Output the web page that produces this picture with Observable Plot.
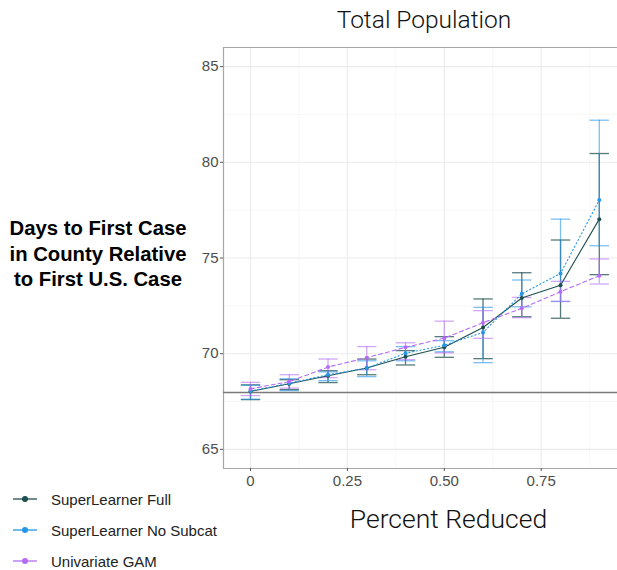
<!DOCTYPE html>
<html><head><meta charset="utf-8">
<script src="https://cdn.jsdelivr.net/npm/d3@7"></script>
<script src="https://cdn.jsdelivr.net/npm/@observablehq/plot@0.6"></script>
<style>
html,body{margin:0;padding:0;background:#fff;overflow:hidden}
#wrap{position:relative;width:617px;height:570px}
#wrap svg{position:absolute;left:0;top:0}
</style></head><body><div id="wrap"></div>
<script>
// ---- data ----
const percent = [0, 0.1, 0.2, 0.3, 0.4, 0.5, 0.6, 0.7, 0.8, 0.9];
const seriesNames = ["SuperLearner Full", "SuperLearner No Subcat", "Univariate GAM"];
const fullMean = [68.03, 68.43, 68.85, 69.25, 69.84, 70.34, 71.37, 72.91, 73.58, 77.03];
const fullLo   = [67.60, 68.12, 68.49, 68.90, 69.41, 69.81, 69.74, 71.93, 71.85, 74.13];
const fullHi   = [68.37, 68.64, 69.11, 69.72, 70.16, 70.89, 72.86, 74.23, 75.94, 80.46];
const noSubMean = [68.05, 68.46, 68.90, 69.25, 70.02, 70.44, 71.11, 73.13, 74.19, 78.03];
const noSubLo   = [67.62, 68.07, 68.59, 68.80, 69.63, 70.10, 69.53, 72.45, 72.73, 75.64];
const noSubHi   = [68.35, 68.69, 69.05, 69.63, 70.37, 70.68, 72.42, 73.85, 77.03, 82.20];
const gamMean = [68.16, 68.54, 69.30, 69.79, 70.33, 70.81, 71.62, 72.37, 73.24, 74.07];
const gamLo   = [67.81, 68.20, 68.75, 69.16, 69.69, 70.05, 70.80, 71.88, 72.73, 73.64];
const gamHi   = [68.50, 68.90, 69.72, 70.37, 70.57, 71.70, 72.25, 72.94, 73.78, 74.95];
const baseline = [67.97];
const xTicks = [0, 0.25, 0.5, 0.75];
const xTickLabels = ["0", "0.25", "0.50", "0.75"];
const xMinor = [0.125, 0.375, 0.625, 0.875];
const yTicks = [65, 70, 75, 80, 85];
const yMinor = [67.5, 72.5, 77.5, 82.5];
const titleText = "Total Population";
const xLabel = "Percent Reduced";
const yLabelLines = ["Days to First Case", "in County Relative", "to First U.S. Case"];

// ---- styling ----
const colors = ["#1d4f4e", "#2595e8", "#b46cf7"];
const dashes = [null, "1.2,2.6", "4,3"];
const capHalf = 0.025;
const xDomain = [-0.0697, 0.947];
const yDomain = [64, 86];

const means = [fullMean, noSubMean, gamMean];
const los = [fullLo, noSubLo, gamLo];
const his = [fullHi, noSubHi, gamHi];
const data = [];
seriesNames.forEach((s, k) => percent.forEach((p, i) => data.push({series: s, k, x: p, y: means[k][i], lo: los[k][i], hi: his[k][i]})));

const marks = [
  Plot.ruleX(xMinor, {stroke: "#f2f2f2", strokeWidth: 0.6}),
  Plot.ruleY(yMinor, {stroke: "#f2f2f2", strokeWidth: 0.6}),
  Plot.ruleX(xTicks, {stroke: "#ebebeb", strokeWidth: 1.1}),
  Plot.ruleY(yTicks, {stroke: "#ebebeb", strokeWidth: 1.1}),
  Plot.ruleX([xDomain[0]], {stroke: "#a6a6a6", strokeWidth: 1.2}),
  Plot.ruleY([yDomain[0], yDomain[1]], {stroke: "#a6a6a6", strokeWidth: 1.2}),
  Plot.ruleY(baseline, {stroke: "#7a7a7a", strokeWidth: 1.6}),
];
seriesNames.forEach((s, k) => {
  const d = data.filter(r => r.k === k);
  const op = k === 0 ? 0.75 : 0.6;
  marks.push(Plot.ruleX(d, {x: "x", y1: "lo", y2: "hi", stroke: colors[k], strokeOpacity: op, strokeWidth: 1.3}));
  marks.push(Plot.link(d, {x1: r => r.x - capHalf, x2: r => r.x + capHalf, y1: "hi", y2: "hi", stroke: colors[k], strokeOpacity: op, strokeWidth: 1.3}));
  marks.push(Plot.link(d, {x1: r => r.x - capHalf, x2: r => r.x + capHalf, y1: "lo", y2: "lo", stroke: colors[k], strokeOpacity: op, strokeWidth: 1.3}));
});
seriesNames.forEach((s, k) => {
  const d = data.filter(r => r.k === k);
  marks.push(Plot.line(d, {x: "x", y: "y", stroke: colors[k], strokeWidth: 1.1, strokeDasharray: dashes[k]}));
  marks.push(Plot.dot(d, {x: "x", y: "y", fill: colors[k], r: 2}));
});
marks.push(Plot.axisY(yTicks, {tickSize: 3, tickPadding: 2, fontSize: 15, label: null, stroke: "#555"}));
marks.push(Plot.axisX(xTicks, {tickSize: 3, tickPadding: 4, fontSize: 15, label: null, stroke: "#555", tickFormat: d => xTickLabels[xTicks.indexOf(d)]}));

const chart = Plot.plot({
  width: 617, height: 570,
  marginLeft: 223, marginRight: 0, marginTop: 47, marginBottom: 102,
  x: {domain: xDomain},
  y: {domain: yDomain},
  style: {fontFamily: "'Liberation Sans', Arial, sans-serif", color: "#4d4d4d", background: "transparent"},
  marks
});
const wrap = document.getElementById("wrap");
wrap.appendChild(chart);

// ---- annotations overlay ----
const svg = d3.select(wrap).append("svg").attr("width", 617).attr("height", 570)
  .style("font-family", "'Liberation Sans', Arial, sans-serif").style("pointer-events", "none");
svg.append("text").attr("x", 424).attr("y", 28).attr("text-anchor", "middle")
  .style("font-family", "Roboto, 'Liberation Sans', sans-serif").style("font-weight", 300)
  .attr("font-size", 24.5).attr("fill", "#111").text(titleText);
svg.append("text").attr("x", 448.5).attr("y", 528).attr("text-anchor", "middle")
  .style("font-family", "Roboto, 'Liberation Sans', sans-serif").style("font-weight", 300)
  .attr("font-size", 26.5).attr("fill", "#111").text(xLabel);
yLabelLines.forEach((t, i) => svg.append("text").attr("x", 98).attr("y", 235 + i * 25.5)
  .attr("text-anchor", "middle").attr("font-size", 20.3).attr("font-weight", "bold").attr("fill", "#000").text(t));
seriesNames.forEach((s, k) => {
  const cy = 499 + k * 31;
  svg.append("line").attr("x1", 13).attr("x2", 37).attr("y1", cy).attr("y2", cy).attr("stroke", colors[k]).attr("stroke-width", 1.3);
  svg.append("circle").attr("cx", 25).attr("cy", cy).attr("r", 3).attr("fill", colors[k]);
  svg.append("text").attr("x", 51).attr("y", cy + 5.5).attr("font-size", 15).attr("fill", "#222").text(s);
});
</script>
</body></html>
